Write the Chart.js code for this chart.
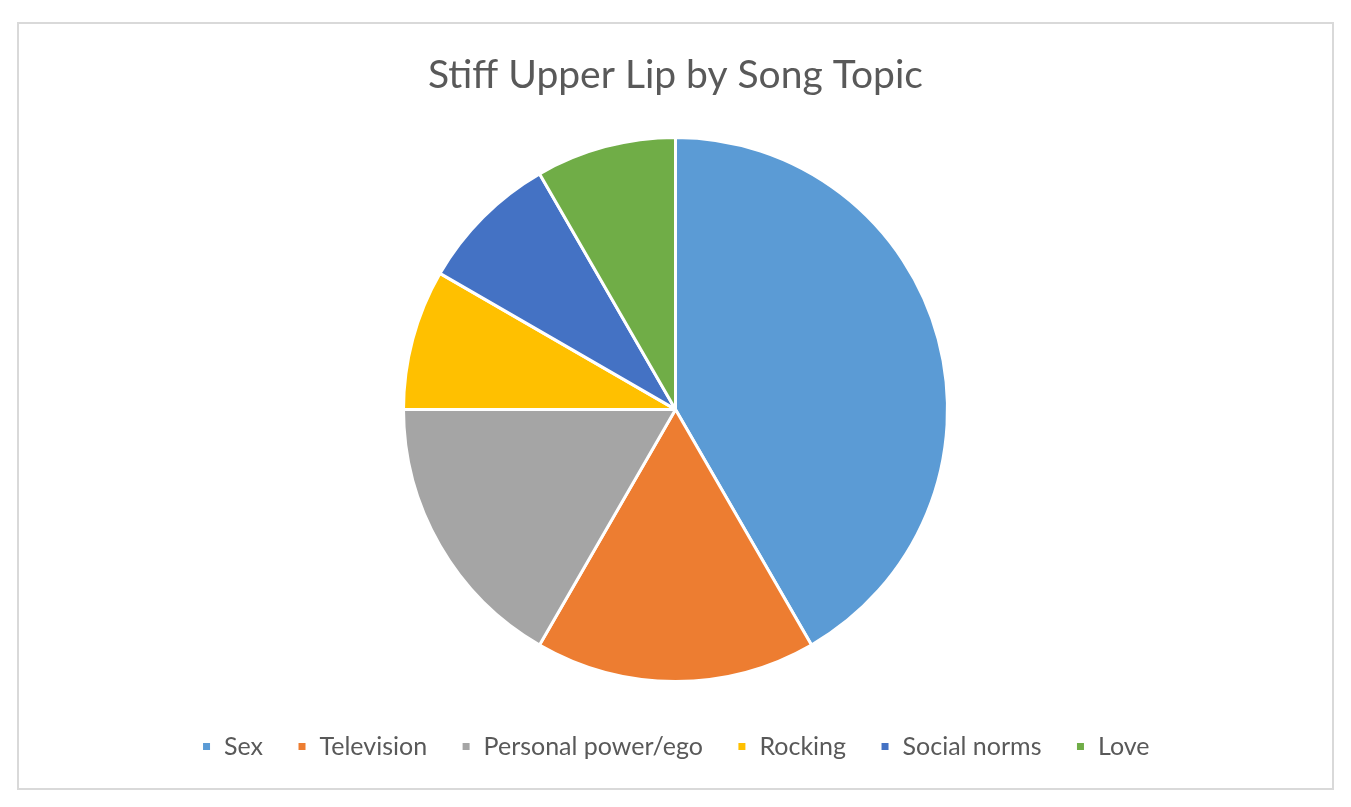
<!DOCTYPE html>
<html>
<head>
<meta charset="utf-8">
<script src="https://cdn.jsdelivr.net/npm/chart.js@4"></script>
<style>
  body { margin: 0; background: #fff; }
  #frame {
    position: absolute; left: 17px; top: 22px;
    width: 1313px; height: 764px;
    border: 2px solid #d9d9d9; background: #fff;
  }
  #frame canvas { display: block; }
</style>
</head>
<body>
<div id="frame"><canvas id="pie" width="1313" height="764"></canvas></div>
<script>
// Songs per topic on "Stiff Upper Lip"
const topics = ['Sex', 'Television', 'Personal power/ego', 'Rocking', 'Social norms', 'Love'];
const songCounts = [5, 2, 2, 1, 1, 1];
const sliceColors = ['#5b9bd5', '#ed7d31', '#a5a5a5', '#ffc000', '#4472c4', '#70ad47'];

new Chart(document.getElementById('pie'), {
    type: 'pie',
    data: {
        labels: topics,
        datasets: [{
            data: songCounts,
            backgroundColor: sliceColors,
            borderColor: '#ffffff',
            borderWidth: 3,
            hoverOffset: 0,
            radius: 272 // fixed size, the rest of the area is left empty
        }]
    },
    options: {
        responsive: false,
        animation: false,
        layout: { padding: { bottom: 19 } },
        plugins: {
            title: {
                display: true,
                text: 'Stiff Upper Lip by Song Topic',
                color: '#595959',
                font: { family: 'Lato', size: 39, weight: 'normal' },
                padding: { top: 28, bottom: 20 }
            },
            legend: {
                position: 'bottom',
                labels: {
                    color: '#595959',
                    font: { family: 'Lato', size: 25 },
                    boxWidth: 10,
                    boxHeight: 10,
                    padding: 34
                }
            },
            tooltip: { enabled: false }
        }
    }
});
</script>
</body>
</html>
